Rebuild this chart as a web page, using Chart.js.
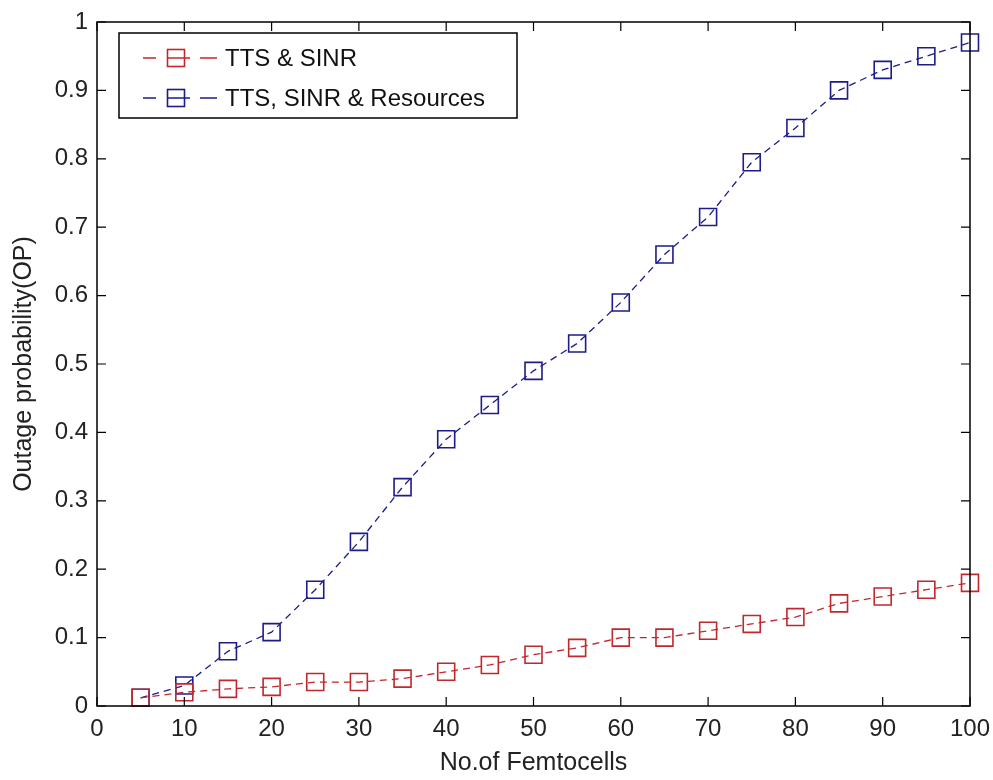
<!DOCTYPE html>
<html><head><meta charset="utf-8">
<script src="https://cdn.jsdelivr.net/npm/chart.js@4.4.1/dist/chart.umd.min.js"></script>
<style>html,body{margin:0;padding:0;background:#fff}#wrap{width:993px;height:780px}</style>
</head><body><div id="wrap"><canvas id="c" width="993" height="780"></canvas></div>
<script>
const femtocells = [5,10,15,20,25,30,35,40,45,50,55,60,65,70,75,80,85,90,95,100];
const ttsSinr = [0.012,0.02,0.025,0.028,0.035,0.035,0.04,0.05,0.06,0.075,0.085,0.10,0.10,0.11,0.12,0.13,0.15,0.16,0.17,0.18];
const ttsSinrRes = [0.012,0.03,0.08,0.108,0.17,0.24,0.32,0.39,0.44,0.49,0.53,0.59,0.66,0.715,0.795,0.845,0.90,0.93,0.95,0.97];
const seriesNames = ['TTS & SINR','TTS, SINR & Resources'];
const xTicks = [0,10,20,30,40,50,60,70,80,90,100];
const yTicks = [0,0.1,0.2,0.3,0.4,0.5,0.6,0.7,0.8,0.9,1];
const xTitle = 'No.of Femtocells';
const yTitle = 'Outage probability(OP)';

const RED = '#c0282d', BLUE = '#1c1c8a';
const FONT = '"Liberation Sans", Arial, sans-serif';

function mk(data){ return femtocells.map((x,i)=>({x, y:data[i]})); }
function ds(label, data, color){
  return {label, data:mk(data), borderColor:color, backgroundColor:'transparent',
    borderWidth:1.3, borderDash:[7,5], pointStyle:'rect', pointRadius:12,
    pointBorderColor:color, pointBackgroundColor:'transparent', pointBorderWidth:1.6,
    pointHoverRadius:12, tension:0, clip:false};
}

const frame = {
  id:'frame',
  afterDraw(chart){
    const {ctx, chartArea:a, scales:{x,y}} = chart;
    ctx.save();
    ctx.strokeStyle='#000'; ctx.lineWidth=1.5;
    ctx.strokeRect(a.left, a.top, a.right-a.left, a.bottom-a.top);
    ctx.lineWidth=1.2;
    const L=9;
    ctx.beginPath();
    xTicks.forEach(v=>{const p=x.getPixelForValue(v);
      ctx.moveTo(p,a.bottom);ctx.lineTo(p,a.bottom-L);
      ctx.moveTo(p,a.top);ctx.lineTo(p,a.top+L);});
    yTicks.forEach(v=>{const p=y.getPixelForValue(v);
      ctx.moveTo(a.left,p);ctx.lineTo(a.left+L,p);
      ctx.moveTo(a.right,p);ctx.lineTo(a.right-L,p);});
    ctx.stroke();
    // legend
    const bx=119, by=33, bw=398, bh=85;
    ctx.fillStyle='#fff'; ctx.fillRect(bx,by,bw,bh);
    ctx.lineWidth=1.5; ctx.strokeStyle='#000'; ctx.strokeRect(bx,by,bw,bh);
    chart.data.datasets.forEach((d,i)=>{
      const yy = by + 25 + i*40;
      ctx.strokeStyle=d.borderColor; ctx.lineWidth=1.3;
      ctx.beginPath(); ctx.moveTo(143,yy); ctx.lineTo(156,yy); ctx.moveTo(167,yy); ctx.lineTo(190,yy);
      ctx.moveTo(200,yy); ctx.lineTo(217,yy); ctx.stroke();
      ctx.lineWidth=1.6; ctx.strokeRect(176-8.5, yy-8.5, 17, 17);
      ctx.fillStyle='#111'; ctx.font='24px '+FONT; ctx.textBaseline='middle'; ctx.textAlign='left';
      ctx.fillText(d.label, 225, yy+1);
    });
    ctx.restore();
  }
};

new Chart(document.getElementById('c'), {
  type:'line',
  data:{datasets:[ds(seriesNames[0], ttsSinr, RED), ds(seriesNames[1], ttsSinrRes, BLUE)]},
  options:{
    responsive:false, animation:false, devicePixelRatio:1,
    layout:{padding:{top:22,right:23,left:0,bottom:0}},
    plugins:{legend:{display:false}, tooltip:{enabled:false}},
    scales:{
      x:{type:'linear', min:0, max:100,
        afterBuildTicks(s){ s.ticks = xTicks.map(v=>({value:v})); },
        afterFit(s){ s.height = 74; s.paddingLeft = 0; s.paddingRight = 0; },
        grid:{display:false, drawTicks:false}, border:{display:false},
        ticks:{padding:9, color:'#222', font:{family:FONT, size:24}, maxRotation:0, autoSkip:false},
        title:{display:true, text:xTitle, color:'#222', font:{family:FONT, size:25}, padding:{top:0,bottom:2}}
      },
      y:{type:'linear', min:0, max:1,
        afterBuildTicks(s){ s.ticks = yTicks.map(v=>({value:v})); },
        afterFit(s){ s.width = 97; s.paddingTop = 0; s.paddingBottom = 0; },
        grid:{display:false, drawTicks:false}, border:{display:false},
        ticks:{padding:9, color:'#222', font:{family:FONT, size:24}, autoSkip:false,
          callback:(v)=> String(+v.toFixed(1))},
        title:{display:true, text:yTitle, color:'#222', font:{family:FONT, size:25}, padding:{top:9,bottom:0}}
      }
    }
  },
  plugins:[frame]
});
</script></body></html>
